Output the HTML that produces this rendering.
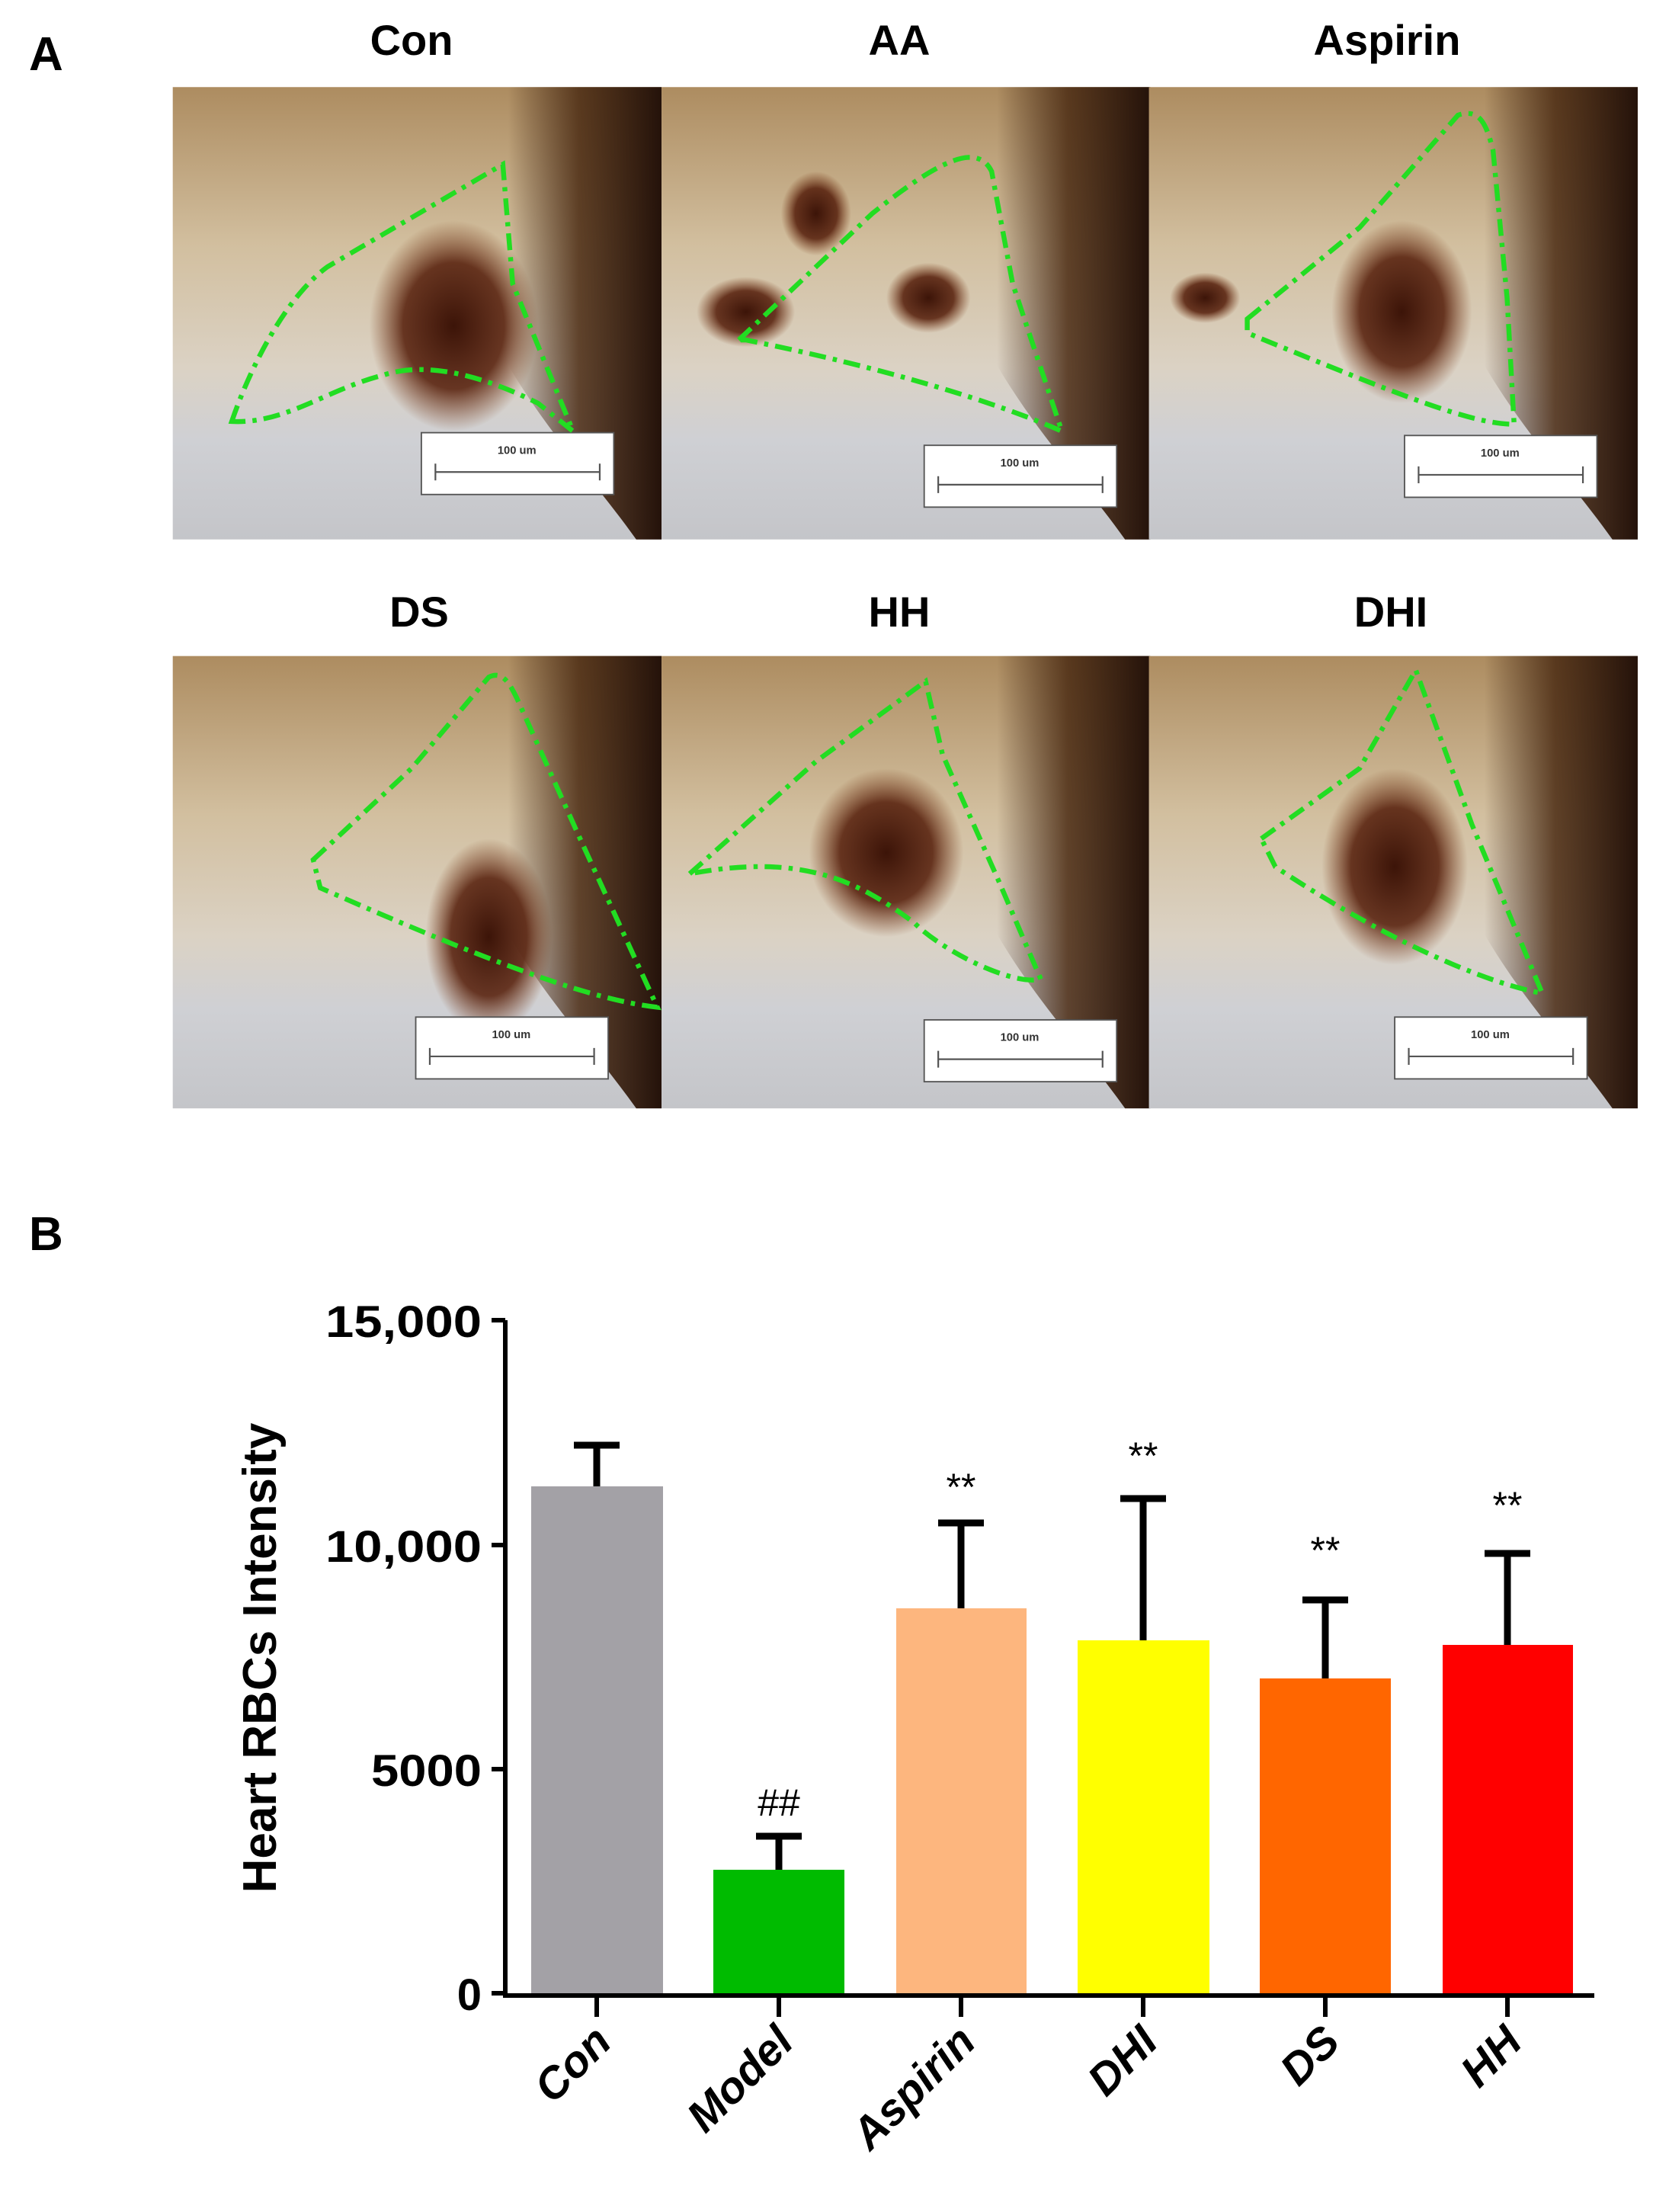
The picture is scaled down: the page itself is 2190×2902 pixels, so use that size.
<!DOCTYPE html>
<html><head><meta charset="utf-8"><style>
html,body{margin:0;padding:0;background:#fff;}
svg{display:block;}
</style></head><body>
<svg width="2190" height="2902" viewBox="0 0 2190 2902" xmlns="http://www.w3.org/2000/svg">
<defs>
<linearGradient id="bg" x1="0" y1="0" x2="0" y2="1">
<stop offset="0" stop-color="#ad8c60"/><stop offset="0.35" stop-color="#d2bf9f"/><stop offset="0.62" stop-color="#dbd2c4"/><stop offset="0.78" stop-color="#cfd0d4"/><stop offset="1" stop-color="#c4c5c9"/></linearGradient>
<linearGradient id="dark" x1="0" y1="0" x2="1" y2="0">
<stop offset="0.35" stop-color="#3a1e0c" stop-opacity="0"/><stop offset="0.65" stop-color="#4a2a12" stop-opacity="0.85"/><stop offset="1" stop-color="#24120a" stop-opacity="1"/></linearGradient>
<radialGradient id="blob"><stop offset="0" stop-color="#3c1408"/><stop offset="0.6" stop-color="#5a2410" stop-opacity="0.9"/><stop offset="1" stop-color="#7a3a18" stop-opacity="0"/></radialGradient>
<g id="photo">
<rect width="348" height="322" fill="url(#bg)"/>
<path d="M180,0 L348,0 L348,322 L330,322 C300,280 270,250 240,200 C210,140 190,60 180,0 Z" fill="url(#dark)"/>
</g>
<g id="bar">
<rect width="137" height="44" fill="#fff" stroke="#555" stroke-width="1"/>
<text x="68" y="15" font-family="Liberation Sans,sans-serif" font-size="8" font-weight="bold" text-anchor="middle" fill="#333">100 um</text>
<path d="M10,28 L127,28 M10,22 L10,34 M127,22 L127,34" stroke="#555" stroke-width="1.2"/>
</g>
</defs>

<text x="38" y="92" font-family="Liberation Sans,sans-serif" font-weight="bold" font-size="62">A</text>
<g font-family="Liberation Sans,sans-serif" font-weight="bold" font-size="56" text-anchor="middle">
<text x="540" y="72">Con</text><text x="1180" y="72">AA</text><text x="1820" y="72">Aspirin</text>
<text x="550" y="822">DS</text><text x="1180" y="822">HH</text><text x="1825" y="822">DHI</text>
</g>
<g transform="translate(0,0) scale(1.843)" fill="none">
 <g transform="translate(123,62)">
  <use href="#photo"/>
  <ellipse cx="200" cy="170" rx="60" ry="75" fill="url(#blob)"/>
  <use href="#bar" x="177" y="246"/>
  <path d="M42,238 C55,200 80,150 110,128 L235,55 L242,140 L285,245 L260,225 C220,205 180,195 150,205 C110,215 80,240 42,238 Z" stroke="#22dd22" stroke-width="3.5" stroke-dasharray="12 5 3 5" fill="none"/>
 </g>
 <g transform="translate(471,62)">
  <use href="#photo"/>
  <ellipse cx="60" cy="160" rx="35" ry="25" fill="url(#blob)"/>
  <ellipse cx="190" cy="150" rx="30" ry="25" fill="url(#blob)"/>
  <ellipse cx="110" cy="90" rx="25" ry="30" fill="url(#blob)"/>
  <use href="#bar" x="187" y="255"/>
  <path d="M55,180 L150,90 C200,50 225,40 235,60 L250,140 L285,245 C240,225 160,200 60,180 Z" stroke="#22dd22" stroke-width="3.5" stroke-dasharray="12 5 3 5"/>
 </g>
 <g transform="translate(818,62)">
  <use href="#photo"/>
  <ellipse cx="180" cy="160" rx="50" ry="65" fill="url(#blob)"/>
  <ellipse cx="40" cy="150" rx="25" ry="18" fill="url(#blob)"/>
  <use href="#bar" x="182" y="248"/>
  <path d="M70,165 L150,100 L220,20 C235,15 240,25 245,45 L255,150 L260,240 C230,240 180,220 70,175 Z" stroke="#22dd22" stroke-width="3.5" stroke-dasharray="12 5 3 5"/>
 </g>
 <g transform="translate(123,467)">
  <use href="#photo"/>
  <ellipse cx="225" cy="200" rx="45" ry="70" fill="url(#blob)"/>
  <use href="#bar" x="173" y="257"/>
  <path d="M100,145 L170,80 L225,15 C235,10 240,20 245,30 L290,130 L345,250 C300,245 230,220 105,165 Z" stroke="#22dd22" stroke-width="3.5" stroke-dasharray="12 5 3 5"/>
 </g>
 <g transform="translate(471,467)">
  <use href="#photo"/>
  <ellipse cx="160" cy="140" rx="55" ry="60" fill="url(#blob)"/>
  <use href="#bar" x="187" y="259"/>
  <path d="M20,155 L110,75 L188,18 L200,70 L240,160 L270,230 C250,235 200,210 180,190 C140,160 100,140 20,155 Z" stroke="#22dd22" stroke-width="3.5" stroke-dasharray="12 5 3 5"/>
 </g>
 <g transform="translate(818,467)">
  <use href="#photo"/>
  <ellipse cx="175" cy="150" rx="52" ry="70" fill="url(#blob)"/>
  <use href="#bar" x="175" y="257"/>
  <path d="M80,130 L150,80 L190,10 L230,120 L280,240 C250,235 180,210 90,150 Z" stroke="#22dd22" stroke-width="3.5" stroke-dasharray="12 5 3 5"/>
 </g>
</g>

<text x="38" y="1640" font-family="Liberation Sans,sans-serif" font-weight="bold" font-size="62">B</text>

<rect x="697" y="1950" width="173" height="665" fill="#a3a1a6"/>
<rect x="936" y="2453" width="172" height="162" fill="#00bb00"/>
<rect x="1176" y="2110" width="171" height="505" fill="#fdb67e"/>
<rect x="1414" y="2152" width="173" height="463" fill="#ffff00"/>
<rect x="1653" y="2202" width="172" height="413" fill="#ff6600"/>
<rect x="1893" y="2158" width="171" height="457" fill="#ff0000"/>

<g stroke="#000" stroke-width="9" fill="none">
<path d="M783,1950 V1896 M753,1896 H813"/>
<path d="M1022,2453 V2409 M992,2409 H1052"/>
<path d="M1261,2110 V1998 M1231,1998 H1291"/>
<path d="M1500,2152 V1966 M1470,1966 H1530"/>
<path d="M1739,2202 V2099 M1709,2099 H1769"/>
<path d="M1978,2158 V2038 M1948,2038 H2008"/>
</g>

<g stroke="#000" stroke-width="6" fill="none">
<path d="M663,1732 V2618 H2092"/>
<path d="M645,1732 H663 M645,2027 H663 M645,2321 H663 M645,2615 H663"/>
<path d="M783,2618 V2646 M1022,2618 V2646 M1261,2618 V2646 M1500,2618 V2646 M1739,2618 V2646 M1978,2618 V2646"/>
</g>

<g font-family="Liberation Sans,sans-serif" font-weight="bold" font-size="58" text-anchor="end" fill="#000">
<text x="632" y="1754" textLength="205" lengthAdjust="spacingAndGlyphs">15,000</text>
<text x="632" y="2049" textLength="205" lengthAdjust="spacingAndGlyphs">10,000</text>
<text x="632" y="2343" textLength="145" lengthAdjust="spacingAndGlyphs">5000</text>
<text x="632" y="2637">0</text>
</g>

<text transform="translate(362,2175) rotate(-90)" font-family="Liberation Sans,sans-serif" font-weight="bold" font-size="62" text-anchor="middle">Heart RBCs Intensity</text>

<g font-family="Liberation Sans,sans-serif" font-size="50" text-anchor="middle" fill="#000">
<text x="1022" y="2382">##</text>
<text x="1261" y="1968">**</text>
<text x="1500" y="1927">**</text>
<text x="1739" y="2051">**</text>
<text x="1978" y="1992">**</text>
</g>

<g font-family="Liberation Sans,sans-serif" font-weight="bold" font-style="italic" font-size="58" text-anchor="end" fill="#000">
<text transform="translate(805,2682) rotate(-45)">Con</text>
<text transform="translate(1044,2682) rotate(-45)">Model</text>
<text transform="translate(1283,2682) rotate(-45)">Aspirin</text>
<text transform="translate(1522,2682) rotate(-45)">DHI</text>
<text transform="translate(1761,2682) rotate(-45)">DS</text>
<text transform="translate(2000,2682) rotate(-45)">HH</text>
</g>
</svg>
</body></html>
